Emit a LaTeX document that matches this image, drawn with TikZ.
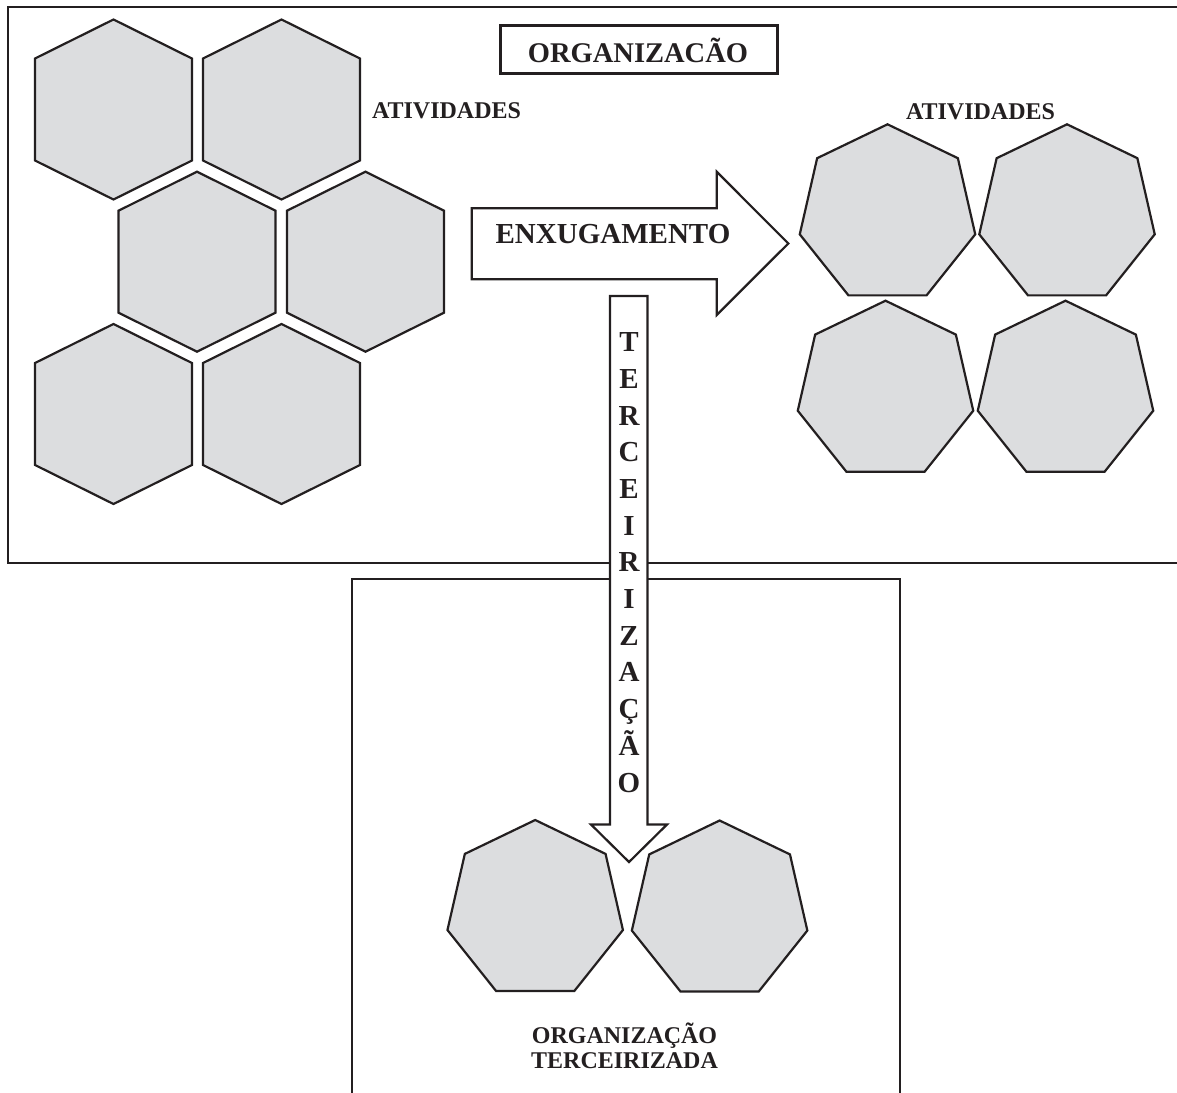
\documentclass[tikz,border=0pt]{standalone}
\usepackage{fontspec}
\setmainfont{Liberation Serif}
\definecolor{ink}{RGB}{35,31,32}
\definecolor{shapegray}{RGB}{220,221,223}
\begin{document}
\begin{tikzpicture}[x=1pt,y=-1pt,
  shp/.style={draw=ink, line width=2.2pt, fill=shapegray, line join=miter},
  frame/.style={draw=ink, line width=2pt},
  blockarrow/.style={draw=ink, line width=2.2pt, fill=white, line join=miter},
  lbl/.style={font=\bfseries\fontsize{24}{24}\selectfont, text=ink, inner sep=0pt, anchor=base},
  biglbl/.style={font=\bfseries\fontsize{29}{29}\selectfont, text=ink, inner sep=0pt, anchor=base},
  hexa/.pic={\path[shp] (0,-90) -- (78.5,-51) -- (78.5,51) -- (0,90) -- (-78.5,51) -- (-78.5,-51) -- cycle;},
  hepta/.pic={\path[shp] (-90:90) \foreach \k in {1,...,6}{ -- ({-90+\k*360/7}:90)} -- cycle;}
]
\useasboundingbox (0,0) rectangle (1177,1092);

% frames (both run on past the page edge)
\draw[frame] (1200,6.5) -- (8,6.5) -- (8,563) -- (1200,563);
\draw[frame] (351.5,1100) -- (351.5,578.5) -- (900,578.5) -- (900,1100);

% hexagons (activities before)
\pic (hA) at (113.5,109.5) {hexa};
\pic (hB) at (281.5,109.5) {hexa};
\pic (hC) at (197,261.7) {hexa};
\pic (hD) at (365.5,261.7) {hexa};
\pic (hE) at (113.5,414) {hexa};
\pic (hF) at (281.5,414) {hexa};

% heptagons (activities after)
\pic (pA) at (887.5,214.3) {hepta};
\pic (pB) at (1067,214.3) {hepta};
\pic (pC) at (885.5,390.7) {hepta};
\pic (pD) at (1065.5,390.7) {hepta};

% heptagons (outsourced)
\pic (pE) at (535.2,910) {hepta};
\pic (pF) at (719.6,910.5) {hepta};

% block arrows
\path[blockarrow] (471.7,208.3) -- (716.7,208.3) -- (716.7,171.7) -- (788.3,243.5)
  -- (716.7,315) -- (716.7,279.3) -- (471.7,279.3) -- cycle;
\path[blockarrow] (610,296) -- (647.5,296) -- (647.5,824.5) -- (667,824.5) -- (629,862)
  -- (591,824.5) -- (610,824.5) -- cycle;

% title
\node[draw=ink, line width=3pt, minimum width=277pt, minimum height=48pt, inner sep=0pt]
  (title) at (638.5,49) {};
\node[font=\bfseries\fontsize{28.5}{28.5}\selectfont, text=ink, inner sep=0pt, anchor=base]
  (titletext) at (638,62) {ORGANIZACÃO};

% labels
\node[lbl] (atvL) at (446.5,118) {ATIVIDADES};
\node[lbl] (atvR) at (980.5,119) {ATIVIDADES};
\node[biglbl] (enx) at (613,243) {ENXUGAMENTO};
\node[lbl] (orgT1) at (624.5,1043.5) {ORGANIZAÇÃO};
\node[lbl] (orgT2) at (624.5,1068) {TERCEIRIZADA};

% vertical word
\foreach \ch [count=\i from 0] in {T,E,R,C,E,I,R,I,Z,A,Ç,Ã,O}{
  \node[biglbl] (v\i) at (629,{342+36.7*\i+9.6}) {\ch};
}
\end{tikzpicture}
\end{document}
